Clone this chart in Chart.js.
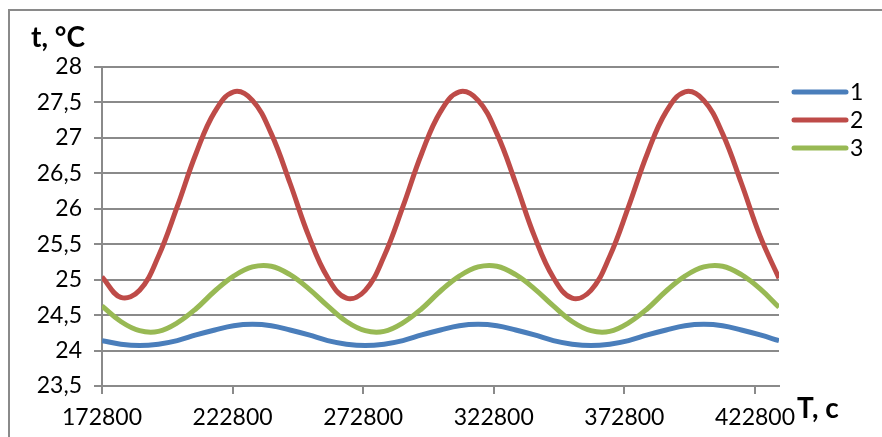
<!DOCTYPE html>
<html>
<head>
<meta charset="utf-8">
<title>t, °C</title>
<script src="https://cdn.jsdelivr.net/npm/chart.js@4/dist/chart.umd.min.js"></script>
<style>
    html, body { margin: 0; padding: 0; background: #fff; }
    canvas { display: block; }
</style>
</head>
<body>
<canvas id="tempChart" width="882" height="437"></canvas>
<script>
/* ================= DATA ================= */

// time, s (step 7200 s)
const timeValues = [
    172800, 180000, 187200, 194400, 201600, 208800, 216000, 223200, 230400, 237600, 244800, 252000,
    259200, 266400, 273600, 280800, 288000, 295200, 302400, 309600, 316800, 324000, 331200, 338400,
    345600, 352800, 360000, 367200, 374400, 381600, 388800, 396000, 403200, 410400, 417600, 424800,
    432000
];

const series1 = [
    24.14, 24.09, 24.07, 24.09, 24.14, 24.22, 24.29, 24.35, 24.37, 24.35, 24.29, 24.22,
    24.14, 24.09, 24.07, 24.09, 24.14, 24.22, 24.29, 24.35, 24.37, 24.35, 24.29, 24.22,
    24.14, 24.09, 24.07, 24.09, 24.14, 24.22, 24.29, 24.35, 24.37, 24.35, 24.29, 24.22,
    24.14
];

const series2 = [
    25.04, 24.75, 24.85, 25.33, 26.03, 26.78, 27.37, 27.65, 27.53, 27.06, 26.36, 25.61,
    25.03, 24.74, 24.85, 25.33, 26.03, 26.78, 27.37, 27.65, 27.53, 27.06, 26.36, 25.61,
    25.03, 24.74, 24.85, 25.33, 26.03, 26.78, 27.37, 27.65, 27.53, 27.06, 26.36, 25.61,
    25.02
];

const series3 = [
    24.63, 24.41, 24.28, 24.27, 24.39, 24.59, 24.84, 25.05, 25.18, 25.19, 25.07, 24.87,
    24.63, 24.41, 24.28, 24.27, 24.39, 24.59, 24.84, 25.05, 25.18, 25.19, 25.07, 24.87,
    24.63, 24.41, 24.28, 24.27, 24.39, 24.59, 24.84, 25.05, 25.18, 25.19, 25.07, 24.87,
    24.61
];

const seriesNames = ["1", "2", "3"];

const xTicks = [172800, 222800, 272800, 322800, 372800, 422800];
const yTicks = [23.5, 24, 24.5, 25, 25.5, 26, 26.5, 27, 27.5, 28];

const yTitle = "t, °C";
const xTitle = "T, c";

/* ================= STYLE ================= */

const colors = ["#4a7ebb", "#be4b48", "#98b954"];
const gridColor = "#8a8a8a";
const labelFont = { family: "Lato", size: 23 };

function toPoints(values) {
    return values.map((v, i) => ({ x: timeValues[i], y: v }));
}

/* ================= PLUGINS ================= */

// white background and chart frame
const framePlugin = {
    id: "frame",
    beforeDraw(chart) {
        const c = chart.ctx;
        c.save();
        c.fillStyle = "#fff";
        c.fillRect(0, 0, chart.width, chart.height);
        c.strokeStyle = gridColor;
        c.lineWidth = 2;
        c.beginPath();
        c.moveTo(9, chart.height);
        c.lineTo(9, 10);
        c.lineTo(chart.width, 10);
        c.stroke();
        c.restore();
    }
};

// axis titles and legend drawn next to the plot
const labelsPlugin = {
    id: "labels",
    afterDraw(chart) {
        const c = chart.ctx;
        const area = chart.chartArea;
        c.save();
        c.fillStyle = "#000";
        c.font = "bold 28px Lato";
        c.textBaseline = "alphabetic";
        c.textAlign = "left";
        c.fillText(yTitle, 31, 47);
        c.fillText(xTitle, area.right + 18, area.bottom + 32);

        c.font = "23px Lato";
        c.textBaseline = "middle";
        chart.data.datasets.forEach((ds, i) => {
            const y = 92 + i * 28;
            c.strokeStyle = ds.borderColor;
            c.lineWidth = 5;
            c.lineCap = "round";
            c.beginPath();
            c.moveTo(area.right + 15, y);
            c.lineTo(area.right + 67, y);
            c.stroke();
            c.fillText(ds.label, area.right + 71, y + 1);
        });
        c.restore();
    }
};

/* ================= CHART ================= */

new Chart(document.getElementById("tempChart"), {
    type: "line",
    data: {
        datasets: [series1, series2, series3].map((values, i) => ({
            label: seriesNames[i],
            data: toPoints(values),
            borderColor: colors[i],
            borderWidth: 5,
            pointRadius: 0,
            tension: 0.4,
            fill: false
        }))
    },
    options: {
        responsive: false,
        animation: false,
        devicePixelRatio: 1,
        layout: { padding: { top: 67, right: 103, left: 0, bottom: 0 } },
        plugins: {
            legend: { display: false },
            tooltip: { enabled: false }
        },
        scales: {
            x: {
                type: "linear",
                min: 172800,
                max: 432000,
                afterBuildTicks: axis => {
                    axis.ticks = xTicks.map(v => ({ value: v }));
                },
                afterFit: axis => { axis.height = 51; },
                grid: {
                    drawOnChartArea: false,
                    drawTicks: true,
                    tickLength: 8,
                    color: gridColor,
                    lineWidth: 2
                },
                border: { color: gridColor, width: 2 },
                ticks: {
                    font: labelFont,
                    color: "#000",
                    padding: 10,
                    maxRotation: 0,
                    autoSkip: false,
                    callback: v => String(v)
                }
            },
            y: {
                min: 23.5,
                max: 28,
                afterBuildTicks: axis => {
                    axis.ticks = yTicks.map(v => ({ value: v }));
                },
                afterFit: axis => { axis.width = 102; },
                grid: {
                    drawTicks: true,
                    tickLength: 8,
                    color: gridColor,
                    lineWidth: 2
                },
                border: { color: gridColor, width: 2 },
                ticks: {
                    font: labelFont,
                    color: "#000",
                    padding: 12,
                    autoSkip: false,
                    callback: v => String(v).replace(".", ",")
                }
            }
        }
    },
    plugins: [framePlugin, labelsPlugin]
});
</script>
</body>
</html>
